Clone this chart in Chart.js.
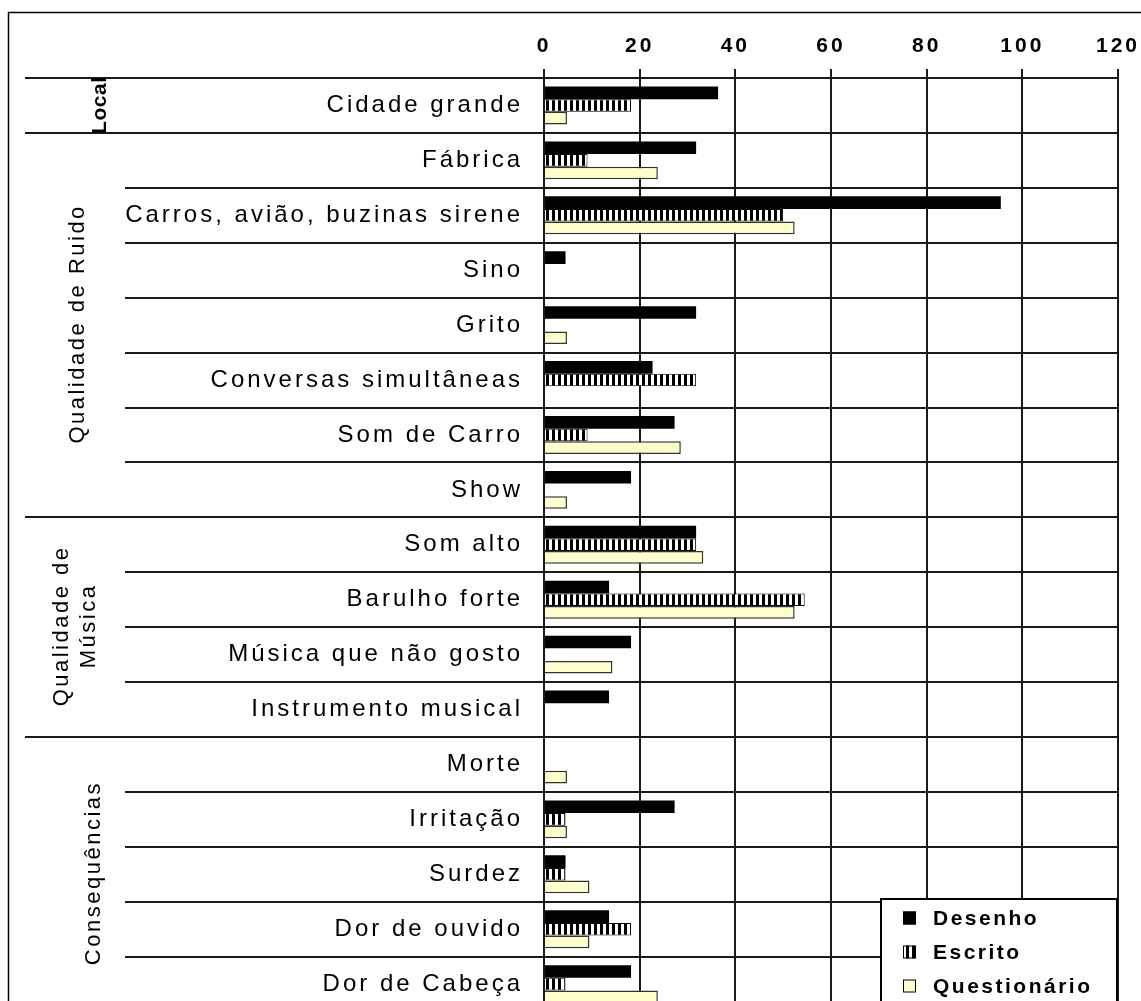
<!DOCTYPE html>
<html>
<head>
<meta charset="utf-8">
<script src="https://cdn.jsdelivr.net/npm/chart.js@4.4.1/dist/chart.umd.min.js"></script>
<style>
  html, body { margin: 0; padding: 0; background: #fff; overflow: hidden; }
  canvas { display: block; }
</style>
</head>
<body>
<canvas id="c" width="1160" height="1047" style="width:1160px;height:1047px"></canvas>
<script>
const categories = [
  'Cidade grande', 'Fábrica', 'Carros, avião, buzinas sirene', 'Sino', 'Grito',
  'Conversas simultâneas', 'Som de Carro', 'Show', 'Som alto', 'Barulho forte',
  'Música que não gosto', 'Instrumento musical', 'Morte', 'Irritação', 'Surdez',
  'Dor de ouvido', 'Dor de Cabeça'
];
const desenho = [36.4, 31.8, 95.5, 4.5, 31.8, 22.7, 27.3, 18.2, 31.8, 13.6, 18.2, 13.6, 0, 27.3, 4.5, 13.6, 18.2];
const escrito = [18.2, 9.1, 50.0, 0, 0, 31.8, 9.1, 0, 31.8, 54.5, 0, 0, 0, 4.5, 4.5, 18.2, 4.5];
const questionario = [4.8, 23.8, 52.4, 0, 4.8, 0, 28.6, 4.8, 33.3, 52.4, 14.3, 0, 4.8, 4.8, 9.5, 9.5, 23.8];
const seriesNames = ['Desenho', 'Escrito', 'Questionário'];
const xTicks = [0, 20, 40, 60, 80, 100, 120];
const groups = [
  { lines: ['Local'], from: 0, to: 0 },
  { lines: ['Qualidade de Ruido'], from: 1, to: 7 },
  { lines: ['Qualidade de', 'Música'], from: 8, to: 11 },
  { lines: ['Consequências'], from: 12, to: 16 }
];

const FONT = '"Liberation Sans", Arial, sans-serif';
const LS = '3px';

function stripePattern() {
  const pc = document.createElement('canvas');
  pc.width = 6; pc.height = 6;
  const p = pc.getContext('2d');
  p.fillStyle = '#fff'; p.fillRect(0, 0, 6, 6);
  p.fillStyle = '#000'; p.fillRect(0, 0, 3, 6);
  return document.getElementById('c').getContext('2d').createPattern(pc, 'repeat');
}
const stripes = stripePattern();

function drawRotated(ctx, text, x, y, font, ls) {
  ctx.save();
  ctx.font = font;
  ctx.letterSpacing = ls;
  ctx.textAlign = 'left';
  ctx.textBaseline = 'middle';
  const w = ctx.measureText(text).width - parseFloat(ls);
  ctx.translate(x, y);
  ctx.rotate(-Math.PI / 2);
  ctx.fillStyle = '#000';
  ctx.fillText(text, -w / 2, 0);
  ctx.restore();
}

const layoutPlugin = {
  id: 'decor',
  beforeDraw(chart) {
    chart.ctx.letterSpacing = LS;
  },
  beforeDatasetsDraw(chart) {
    const ctx = chart.ctx;
    const ys = chart.scales.y;
    const area = chart.chartArea;
    const groupStarts = new Set(groups.map(g => g.from));
    ctx.save();
    ctx.strokeStyle = '#1a1a1a';
    ctx.lineWidth = 2;
    for (let k = 0; k <= categories.length; k++) {
      const y = Math.round(ys.getPixelForValue(k - 0.5));
      const x0 = (groupStarts.has(k) || k === categories.length) ? 25 : 125;
      ctx.beginPath();
      ctx.moveTo(x0, y);
      ctx.lineTo(area.right, y);
      ctx.stroke();
    }
    ctx.lineWidth = 1.5;
    ctx.strokeStyle = '#000';
    ctx.beginPath();
    ctx.moveTo(8.5, 1100);
    ctx.lineTo(8.5, 12.5);
    ctx.lineTo(1200, 12.5);
    ctx.stroke();
    ctx.restore();
  },
  afterDraw(chart) {
    const ctx = chart.ctx;
    const ys = chart.scales.y;
    const gx = { 'Local': 100, 'Qualidade de Ruido': 78, 'Consequências': 94 };
    groups.forEach(g => {
      const yc = (ys.getPixelForValue(g.from - 0.5) + ys.getPixelForValue(g.to + 0.5)) / 2;
      if (g.lines.length === 1) {
        const isLocal = g.lines[0] === 'Local';
        drawRotated(ctx, g.lines[0], gx[g.lines[0]], yc,
          (isLocal ? 'bold 21px ' : '22px ') + FONT, isLocal ? '0.5px' : '2.5px');
      } else {
        const xs = [62, 89];
        g.lines.forEach((t, i) => drawRotated(ctx, t, xs[i], yc, '22px ' + FONT, '2.5px'));
      }
    });
    ctx.save();
    const bx = 881, by = 899, bw = 236, bh = 140;
    ctx.fillStyle = '#fff';
    ctx.fillRect(bx, by, bw, bh);
    ctx.strokeStyle = '#000';
    ctx.lineWidth = 2;
    ctx.strokeRect(bx, by, bw, bh);
    ctx.font = 'bold 21px ' + FONT;
    ctx.letterSpacing = '2.5px';
    ctx.textAlign = 'left';
    ctx.textBaseline = 'middle';
    const rowsY = [918, 952, 986];
    chart.data.datasets.forEach((ds, i) => {
      const y = rowsY[i];
      const mx = 903, ms = 13;
      ctx.fillStyle = ds.backgroundColor;
      ctx.fillRect(mx, y - ms / 2, ms, ms);
      ctx.lineWidth = 1;
      ctx.strokeStyle = '#000';
      ctx.strokeRect(mx + 0.5, y - ms / 2 + 0.5, ms - 1, ms - 1);
      ctx.fillStyle = '#000';
      ctx.fillText(ds.label, 933, y + 1);
    });
    ctx.restore();
  }
};

new Chart(document.getElementById('c'), {
  type: 'bar',
  data: {
    labels: categories,
    datasets: [
      { label: seriesNames[0], data: desenho, backgroundColor: '#000000', borderColor: '#000000', borderWidth: 0 },
      { label: seriesNames[1], data: escrito, backgroundColor: stripes, borderColor: '#000000', borderWidth: 1 },
      { label: seriesNames[2], data: questionario, backgroundColor: '#FFFFCC', borderColor: '#333333', borderWidth: 1.5 }
    ]
  },
  options: {
    indexAxis: 'y',
    responsive: false,
    animation: false,
    devicePixelRatio: 1,
    layout: { padding: { left: 0, top: 0, right: 42, bottom: 5 } },
    datasets: { bar: { categoryPercentage: 0.69, barPercentage: 1.0 } },
    plugins: { legend: { display: false }, tooltip: { enabled: false } },
    scales: {
      x: {
        position: 'top',
        min: 0, max: 120,
        afterBuildTicks: (s) => { s.ticks = xTicks.map(v => ({ value: v })); },
        afterFit: (s) => { s.height = 78; },
        grid: { color: '#1a1a1a', lineWidth: 2, tickLength: 9, drawTicks: true },
        border: { display: false },
        ticks: { color: '#000', padding: 10, font: { family: FONT, size: 21, weight: 'bold' } }
      },
      y: {
        afterFit: (s) => { s.width = 544; },
        grid: { display: false, drawTicks: false },
        border: { display: false },
        ticks: { color: '#000', padding: 21, font: { family: FONT, size: 24 }, autoSkip: false }
      }
    }
  },
  plugins: [layoutPlugin]
});
</script>
</body>
</html>
